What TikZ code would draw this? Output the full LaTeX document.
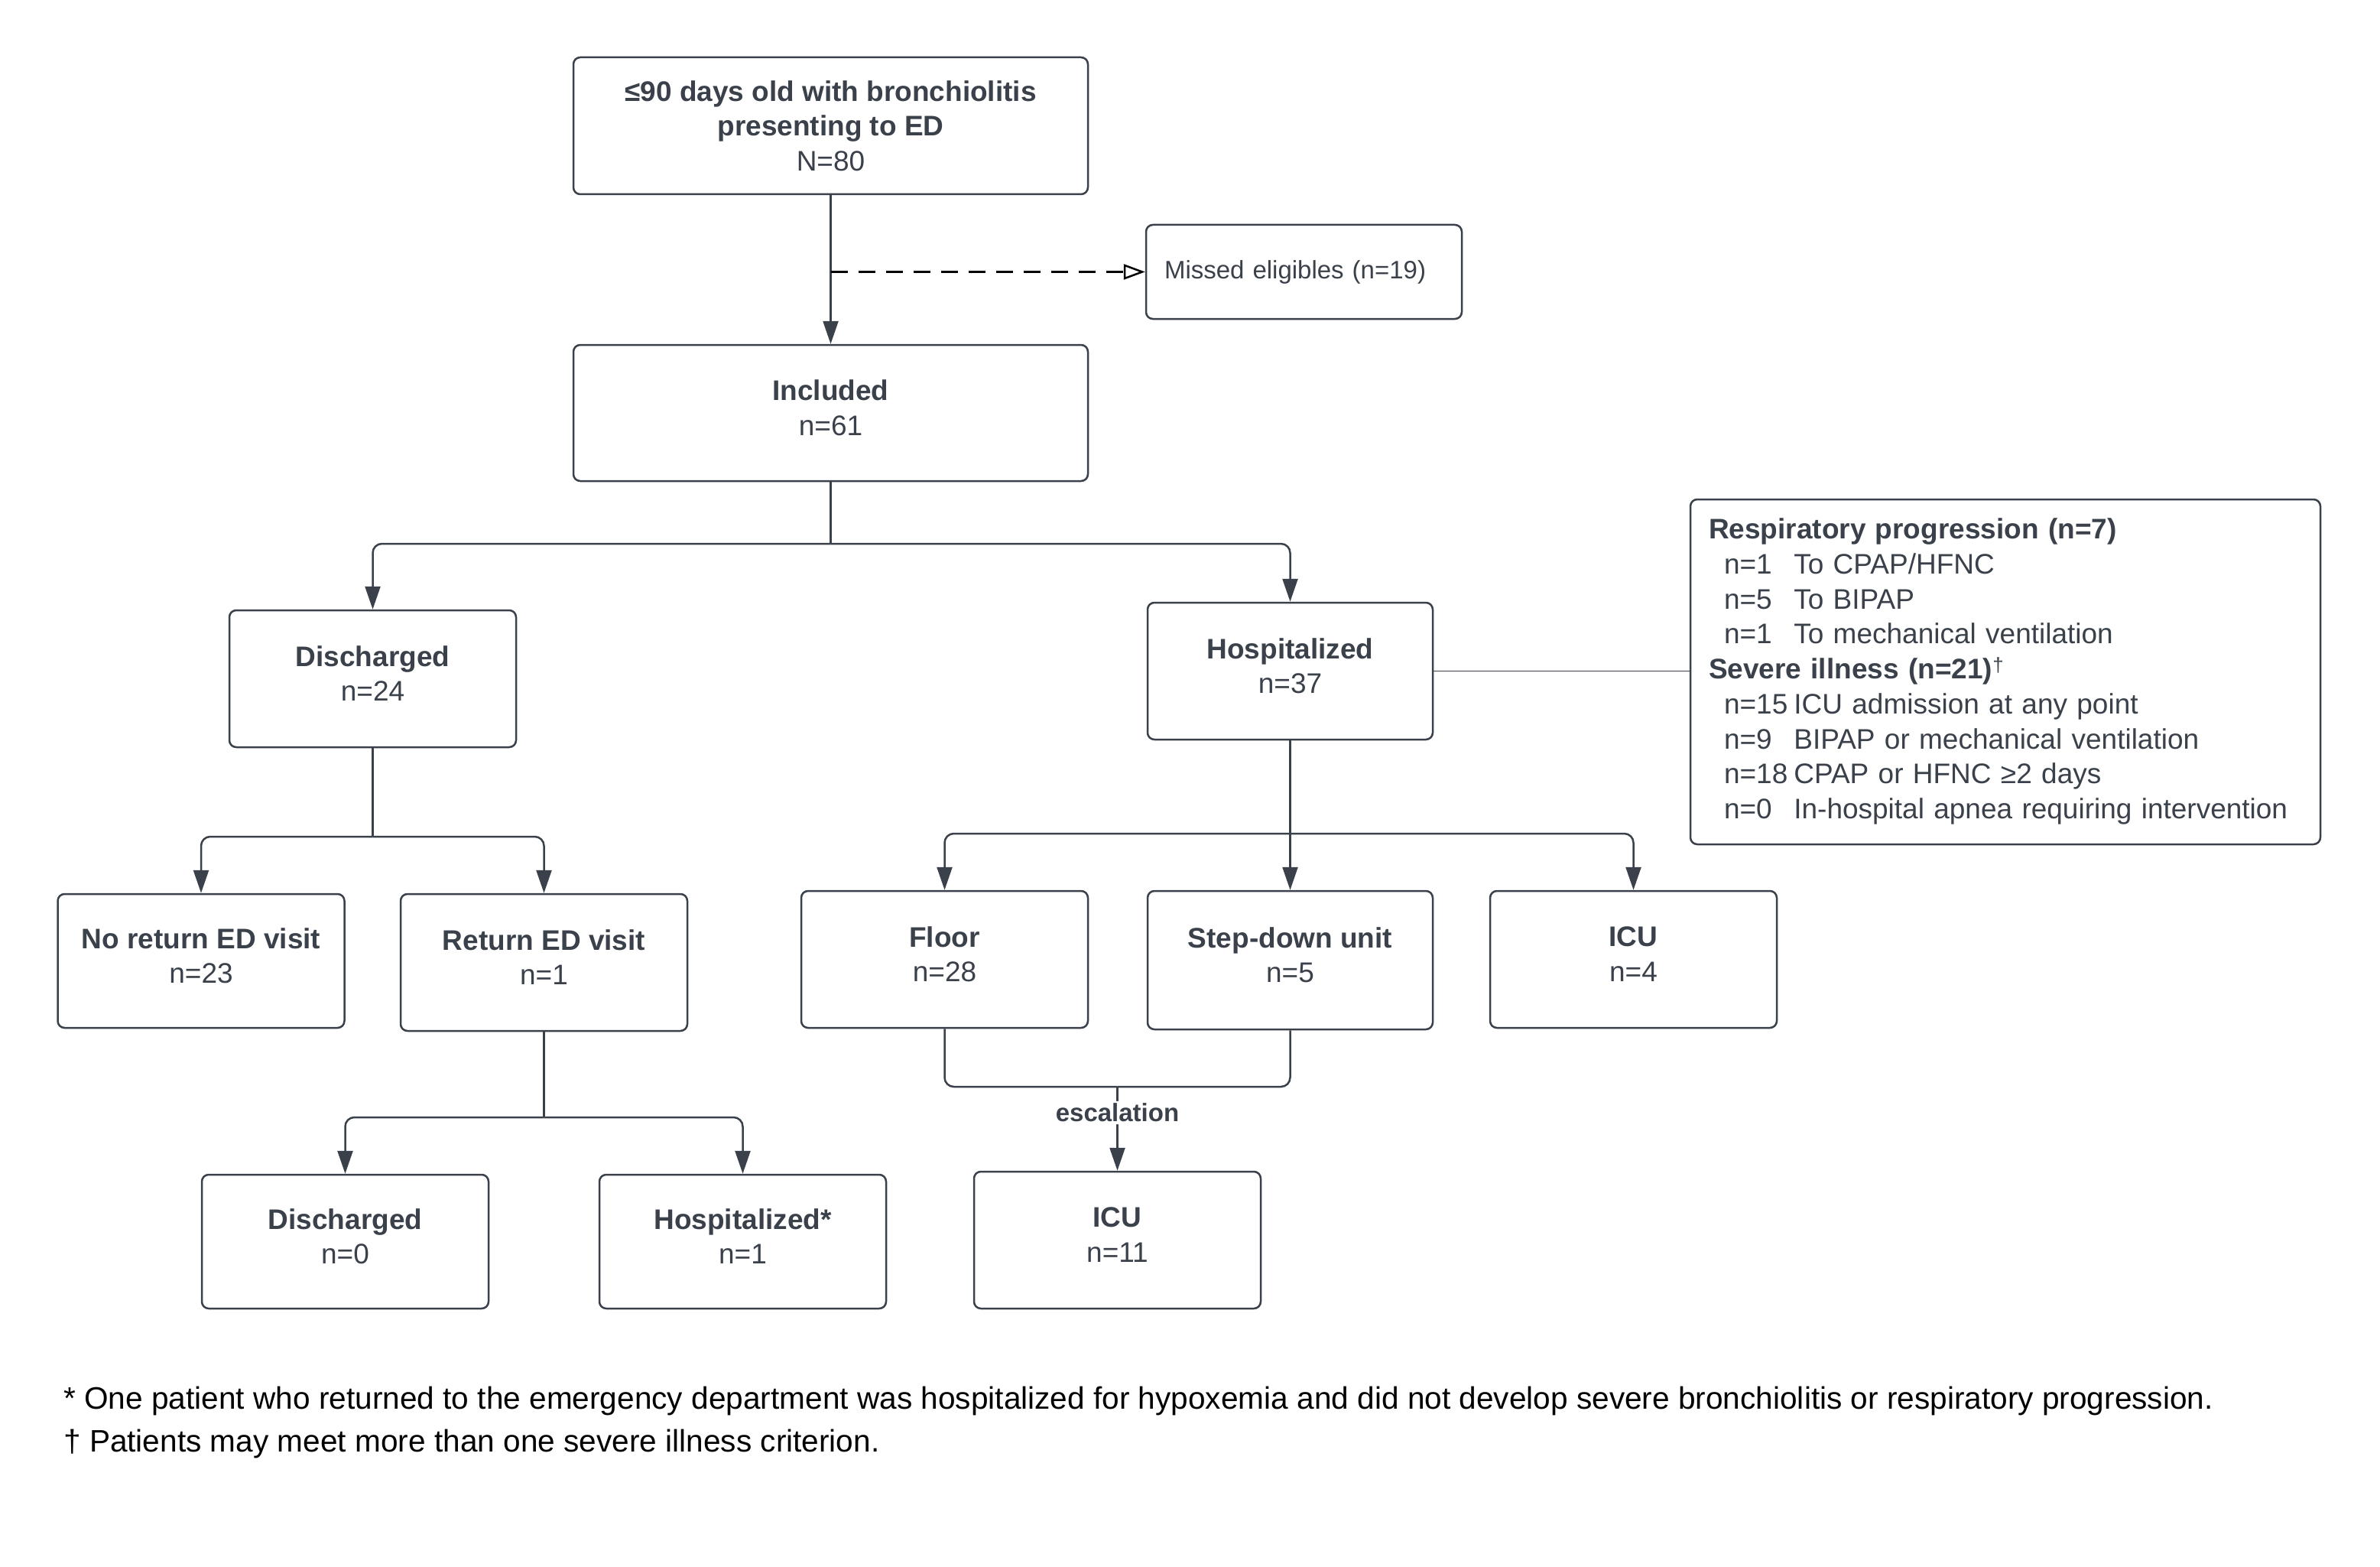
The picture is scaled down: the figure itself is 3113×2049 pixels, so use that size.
\documentclass[tikz,border=0pt]{standalone}
\usepackage{fontspec}
\setmainfont{Liberation Sans}
\usetikzlibrary{arrows.meta}
\definecolor{lc}{RGB}{58,65,74}
\begin{document}
\begin{tikzpicture}[x=1pt,y=-1pt,
  box/.style={draw=lc, line width=2.5pt, rounded corners=9pt, minimum width=375pt, minimum height=179pt, inner sep=0pt, align=center, text=lc, font=\fontsize{37}{45.7}\selectfont},
  tb/.style={box, execute at end node={\rule[-14pt]{0pt}{14pt}}},
  conn/.style={draw=lc, line width=2.5pt},
  arr/.style={conn, -{Triangle[length=30pt,width=20pt]}, rounded corners=12pt},
  dasharr/.style={draw=black, line width=2.5pt, dash pattern=on 22pt off 14pt, -{Triangle[open, length=28pt, width=20pt, fill=white]}},
  thin/.style={draw=lc, line width=1.5pt},
  foot/.style={anchor=west, inner sep=0pt, text=black, font=\fontsize{40.6}{50}\selectfont}
]
\useasboundingbox[fill=white] (0,0) rectangle (3113,2049);

\node[box, minimum width=673pt] (top) at (1086.5,164.5) {\textbf{≤90 days old with bronchiolitis}\\\textbf{presenting to ED}\\N=80};
\node[box, minimum width=0pt, text width=365pt, inner xsep=24pt, minimum height=123pt, align=left, font=\fontsize{33}{40}\selectfont] (missed) at (1705.5,355.5) {Missed eligibles (n=19)};
\node[tb, minimum width=673pt, minimum height=178pt] (incl) at (1086.5,540) {\textbf{Included}\\n=61};
\node[tb] (dis) at (487.5,887.5) {\textbf{Discharged}\\n=24};
\node[tb, minimum width=373pt] (hosp) at (1687.5,877.5) {\textbf{Hospitalized}\\n=37};
\node[box, minimum width=0pt, text width=776pt, inner xsep=24pt, minimum height=451pt, align=left] (info) at (2623,878.5) {%
\begin{tabular}{@{\hspace{20pt}}l@{\hspace{8pt}}l@{}}
\multicolumn{2}{@{}l@{}}{\textbf{Respiratory progression (n=7)}}\\
n=1 & To CPAP/HFNC\\
n=5 & To BIPAP\\
n=1 & To mechanical ventilation\\
\multicolumn{2}{@{}l@{}}{\textbf{Severe illness (n=21)}\textsuperscript{†}}\\
n=15 & ICU admission at any point\\
n=9 & BIPAP or mechanical ventilation\\
n=18 & CPAP or HFNC ≥2 days\\
n=0 & In-hospital apnea requiring intervention
\end{tabular}};
\node[tb, minimum height=175pt] (noret) at (263,1256.5) {\textbf{No return ED visit}\\n=23};
\node[tb] (ret) at (711.5,1258.5) {\textbf{Return ED visit}\\n=1};
\node[tb] (floor) at (1235.5,1254.5) {\textbf{Floor}\\n=28};
\node[tb, minimum width=373pt, minimum height=181pt] (step) at (1687.5,1255.5) {\textbf{Step-down unit}\\n=5};
\node[tb] (icu) at (2136.5,1254.5) {\textbf{ICU}\\n=4};
\node[tb, minimum height=175pt] (dis0) at (451.5,1623.5) {\textbf{Discharged}\\n=0};
\node[tb, minimum height=175pt] (hospst) at (971.5,1623.5) {\textbf{Hospitalized*}\\n=1};
\node[tb] (icu2) at (1461.5,1621.5) {\textbf{ICU}\\n=11};

\coordinate (d1) at (1086.5,355.5);
\coordinate (j1) at (1086.5,711);
\coordinate (j2) at (1687.5,1090);
\coordinate (j3) at (487.5,1094);
\coordinate (j4) at (711.5,1461);
\coordinate (j5) at (1461.5,1421);

\draw[arr] (top.south) -- (incl.north);
\draw[dasharr] (d1) -- (missed.west);

\draw[conn] (incl.south) -- (j1);
\draw[arr] (j1) -| (dis.north);
\draw[arr] (j1) -| (hosp.north);

\draw[thin] (hosp.east) -- (info.west |- hosp.east);

\draw[arr] (hosp.south) -- (step.north);
\draw[arr] (j2) -| (floor.north);
\draw[arr] (j2) -| (icu.north);

\draw[conn] (dis.south) -- (j3);
\draw[arr] (j3) -| (noret.north);
\draw[arr] (j3) -| (ret.north);

\draw[conn] (ret.south) -- (j4);
\draw[arr] (j4) -| (dis0.north);
\draw[arr] (j4) -| (hospst.north);

\draw[conn, rounded corners=12pt] (floor.south) |- (j5);
\draw[conn, rounded corners=12pt] (step.south) |- (j5);
\draw[arr] (j5) -- node[pos=0.31, fill=white, inner sep=3pt, text=lc, font=\bfseries\fontsize{33}{40}\selectfont] (esc) {escalation} (icu2.north);

\node[foot] (f1) at (83,1832) {* One patient who returned to the emergency department was hospitalized for hypoxemia and did not develop severe bronchiolitis or respiratory progression.};
\node[foot] (f2) at (83,1888) {† Patients may meet more than one severe illness criterion.};
\end{tikzpicture}
\end{document}
